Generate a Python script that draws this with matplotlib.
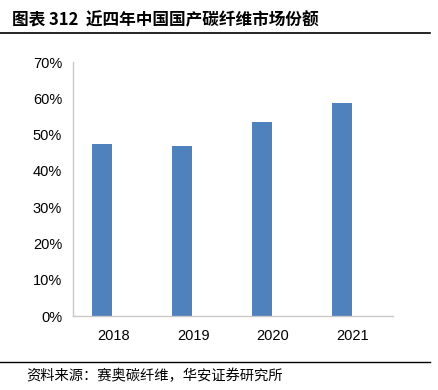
import matplotlib
matplotlib.use("Agg")
import matplotlib.pyplot as plt
from matplotlib.ticker import FuncFormatter

years = ["2018", "2019", "2020", "2021"]
share = [47.3, 46.8, 53.5, 58.6]
yticks = [0, 10, 20, 30, 40, 50, 60, 70]
title = "图表 312  近四年中国国产碳纤维市场份额"
source = "资料来源：赛奥碳纤维，华安证券研究所"

W, H = 439, 390
fig = plt.figure(figsize=(W / 100, H / 100), dpi=100)
ax = fig.add_axes([73.3 / W, 1 - 316 / H, (392.7 - 73.3) / W, (316 - 62) / H])

x = list(range(len(years)))
ax.bar([i - 0.135 for i in x], share, width=0.25, color="#4F81BD", zorder=2)

ax.set_xlim(-0.5, len(years) - 0.5)
ax.set_ylim(0, 70)
ax.set_yticks(yticks)
ax.yaxis.set_major_formatter(FuncFormatter(lambda v, p: f"{int(v)}%"))
ax.set_xticks(x)
ax.set_xticklabels(years)
for s in ["top", "right"]:
    ax.spines[s].set_visible(False)
for s in ["left", "bottom"]:
    ax.spines[s].set_color("#C8C8C8")
    ax.spines[s].set_linewidth(1.0)
ax.tick_params(axis="both", length=0, labelsize=10.5, colors="#000000")
ax.tick_params(axis="y", pad=8)
ax.tick_params(axis="x", pad=9)
for lab in ax.get_xticklabels() + ax.get_yticklabels():
    lab.set_family(["Liberation Sans", "DejaVu Sans"])

cjk = ["Noto Sans CJK SC", "DejaVu Sans"]
fig.text(12 / W, 1 - 20.5 / H, title, fontsize=12, fontweight="bold",
         family=cjk, ha="left", va="center")
fig.add_artist(plt.Line2D([0, 430 / W], [1 - 33 / H, 1 - 33 / H], color="black", lw=1.2))
fig.add_artist(plt.Line2D([0, 430 / W], [1 - 361.7 / H, 1 - 361.7 / H], color="black", lw=1.0))
fig.text(26 / W, 1 - 376 / H, source, fontsize=10.3, family=cjk, ha="left", va="center")

fig.savefig("out.png", dpi=100)
